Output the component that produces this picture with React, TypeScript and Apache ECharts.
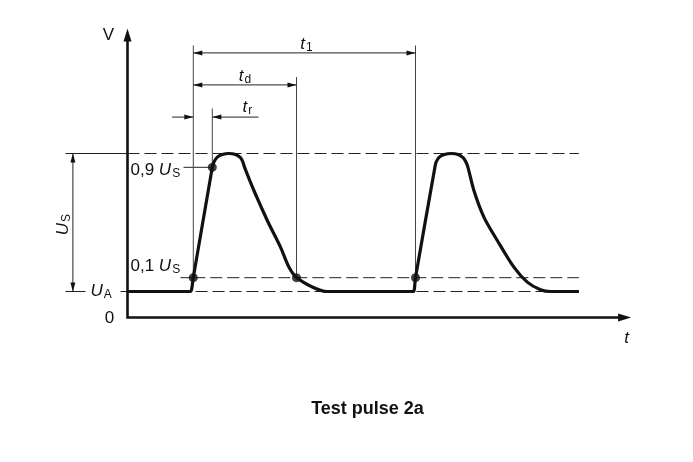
import React, { useEffect, useRef } from "react";
import * as echarts from "echarts";

// ---- Voltage levels (arbitrary units) ----
const U_A = 13; // offset voltage UA
const U_S_PEAK = 82; // UA + US
const U_S = U_S_PEAK - U_A;
const LEVEL_10 = U_A + 0.1 * U_S;
const LEVEL_90 = U_A + 0.9 * U_S;

// ---- Time markers (arbitrary units) ----
const T_START = 32.9; // 10 % crossing, pulse 1
const T_RISE_END = 42.4; // 90 % crossing, pulse 1
const T_DECAY = 84.5; // 10 % crossing on decay, pulse 1
const T_NEXT = 144; // 10 % crossing, pulse 2
const T_END = 225.7; // end of drawn trace
const T_AXIS_END = 251.8;
const V_AXIS_END = 144.5;

// ---- Waveform ----
const waveT = [
  0, 30, 31.5, 32.9, 42.4, 43.2, 44.9, 47.4, 50.7, 54, 56.5, 57.7, 58.5, 63.2, 69.9, 76.5, 80.7, 84.5, 93.2, 99.9,
  141.5, 143, 144, 153.7, 154.3, 155.9, 158.4, 161.9, 165.3, 167.8, 169.2, 170.2, 173.2, 178.2, 184.9, 193.2, 199.9,
  206.5, 211.5, 225.7,
];
const waveV = [
  13, 13, 13, 20, 75.1, 77.7, 80.2, 81.5, 82, 81.5, 79.9, 77.7, 75.2, 63.5, 48.5, 35.2, 25.2, 20, 14.9, 13,
  13, 13, 20, 75.1, 77.7, 80.2, 81.5, 82, 81.5, 79.9, 77.7, 75.2, 63.5, 50.2, 38.5, 25.2, 17.7,
  13.9, 13, 13,
];

// marked points on the trace
const dotT = [T_START, T_RISE_END, T_DECAY, T_NEXT];
const dotV = [LEVEL_10, LEVEL_90, LEVEL_10, LEVEL_10];

const FONT = "'Liberation Sans', Arial, Helvetica, sans-serif";
const INK = "#111";

function seg(points: number[][], opts: { width?: number; color?: string; dash?: number[] | null; z?: number } = {}) {
  return {
    type: "line",
    data: points,
    symbol: "none",
    silent: true,
    clip: false,
    z: opts.z ?? 2,
    lineStyle: {
      width: opts.width ?? 1,
      color: opts.color ?? "#222",
      type: opts.dash ? opts.dash : "solid",
      cap: "butt",
      join: "miter",
    },
    emphasis: { disabled: true },
  };
}

function arrowSeries(data: number[][], L: number, W: number) {
  return {
    type: "custom",
    silent: true,
    z: 5,
    data,
    renderItem: (params: any, api: any) => {
      const p = api.coord([api.value(0), api.value(1)]);
      const a = (api.value(2) * Math.PI) / 180;
      const dx = Math.cos(a);
      const dy = -Math.sin(a);
      const bx = p[0] - dx * L;
      const by = p[1] - dy * L;
      const nx = -dy;
      const ny = dx;
      return {
        type: "polygon",
        shape: {
          points: [
            [p[0], p[1]],
            [bx + (nx * W) / 2, by + (ny * W) / 2],
            [bx - (nx * W) / 2, by - (ny * W) / 2],
          ],
        },
        style: { fill: INK },
      };
    },
  };
}

export default function App() {
  const ref = useRef<HTMLDivElement>(null);

  useEffect(() => {
    if (!ref.current) return;
    const chart = echarts.init(ref.current, null, { renderer: "svg" });

    const dashed = [12, 5];
    const yT1 = 132.3;
    const yTd = 116.3;
    const yTr = 100.2;
    const xUs = -27.3;

    const series: any[] = [
      // axes
      seg([[0, V_AXIS_END - 6], [0, 0], [T_AXIS_END - 6, 0]], { width: 2.6, color: INK, z: 4 }),
      // level lines
      seg([[-31, U_S_PEAK], [0, U_S_PEAK]], {}),
      seg([[0, U_S_PEAK], [T_END, U_S_PEAK]], { dash: dashed }),
      seg([[26.5, LEVEL_10], [T_START, LEVEL_10]], {}),
      seg([[T_START, LEVEL_10], [T_END, LEVEL_10]], { dash: dashed }),
      seg([[-31, U_A], [-21, U_A]], {}),
      seg([[-3.5, U_A], [0, U_A]], {}),
      seg([[0, U_A], [T_END, U_A]], { dash: dashed }),
      seg([[28, LEVEL_90], [T_RISE_END, LEVEL_90]], {}),
      // extension lines
      seg([[T_START, LEVEL_10], [T_START, 136]], { color: "#444" }),
      seg([[T_RISE_END, LEVEL_90], [T_RISE_END, 104.5]], { color: "#444" }),
      seg([[T_DECAY, LEVEL_10], [T_DECAY, 120.2]], { color: "#444" }),
      seg([[T_NEXT, LEVEL_10], [T_NEXT, 136]], { color: "#444" }),
      // dimension lines
      seg([[T_START, yT1], [T_NEXT, yT1]], {}),
      seg([[T_START, yTd], [T_DECAY, yTd]], {}),
      seg([[22.3, yTr], [T_START, yTr]], {}),
      seg([[65.5, yTr], [T_RISE_END, yTr]], {}),
      seg([[xUs, U_A], [xUs, U_S_PEAK]], {}),
      // waveform
      {
        type: "line",
        data: waveT.map((t, i) => [t, waveV[i]]),
        symbol: "none",
        smooth: 0.3,
        silent: true,
        z: 6,
        lineStyle: { width: 3.2, color: INK, join: "round", cap: "butt" },
        emphasis: { disabled: true },
      },
      {
        type: "scatter",
        data: dotT.map((t, i) => [t, dotV[i]]),
        symbol: "circle",
        symbolSize: 9,
        silent: true,
        z: 7,
        itemStyle: { color: INK },
      },
      arrowSeries(
        [
          [0, V_AXIS_END, 90],
          [T_AXIS_END, 0, 0],
        ],
        13,
        8
      ),
      arrowSeries(
        [
          [T_START, yT1, 180],
          [T_NEXT, yT1, 0],
          [T_START, yTd, 180],
          [T_DECAY, yTd, 0],
          [T_START, yTr, 0],
          [T_RISE_END, yTr, 180],
          [xUs, U_S_PEAK, 90],
          [xUs, U_A, 270],
        ],
        9,
        5
      ),
    ];

    chart.setOption({
      animation: false,
      grid: { left: 27.5, right: 45.5, top: 17.5, bottom: 104.5 },
      xAxis: { type: "value", min: -50, max: 260, show: false },
      yAxis: { type: "value", min: -20, max: 150, show: false },
      series,
    });

    const P = (x: number, y: number) => chart.convertToPixel({ xAxisIndex: 0, yAxisIndex: 0 }, [x, y]) as number[];

    const rich = {
      n: { fontSize: 17, fontFamily: FONT, color: INK },
      i: { fontSize: 17, fontFamily: FONT, fontStyle: "italic", color: INK },
      s: { fontSize: 12, fontFamily: FONT, color: INK, padding: [7, 0, 0, 1] },
    };

    const txt = (x: number, y: number, text: string, align = "left", extra: any = {}) => {
      const p = P(x, y);
      return {
        type: "text",
        x: p[0],
        y: p[1],
        silent: true,
        z: 10,
        ...extra,
        style: {
          text,
          rich,
          fontSize: 17,
          fontFamily: FONT,
          fill: INK,
          align,
          verticalAlign: "middle",
        },
      };
    };

    chart.setOption({
      graphic: [
        txt(-9.5, 141.5, "{n|V}", "center"),
        txt(-9, 0, "{n|0}", "center"),
        txt(-18.5, U_A + 0.6, "{i|U}{s|A}", "left"),
        txt(1.5, LEVEL_90 - 1, "{n|0,9 }{i|U}{s|S}", "left"),
        txt(1.5, LEVEL_10 + 6, "{n|0,1 }{i|U}{s|S}", "left"),
        txt(-32.5, (U_A + U_S_PEAK) / 2 - 1, "{i|U}{s|S}", "center", { rotation: Math.PI / 2 }),
        txt((T_START + T_NEXT) / 2 + 1, 137, "{i|t}{s|1}", "center"),
        txt((T_START + T_DECAY) / 2, 121, "{i|t}{s|d}", "center"),
        txt(59.9, 105.5, "{i|t}{s|r}", "center"),
        txt(249.5, -10, "{i|t}", "center"),
        {
          type: "text",
          x: P(120, -45)[0],
          y: P(120, -45)[1],
          silent: true,
          style: {
            text: "Test pulse 2a",
            fontSize: 18,
            fontWeight: "bold",
            fontFamily: FONT,
            fill: INK,
            align: "center",
            verticalAlign: "middle",
          },
        },
      ],
    });

    return () => chart.dispose();
  }, []);

  return <div ref={ref} style={{ position: "fixed", left: 0, top: 0, width: 693, height: 462 }} />;
}
